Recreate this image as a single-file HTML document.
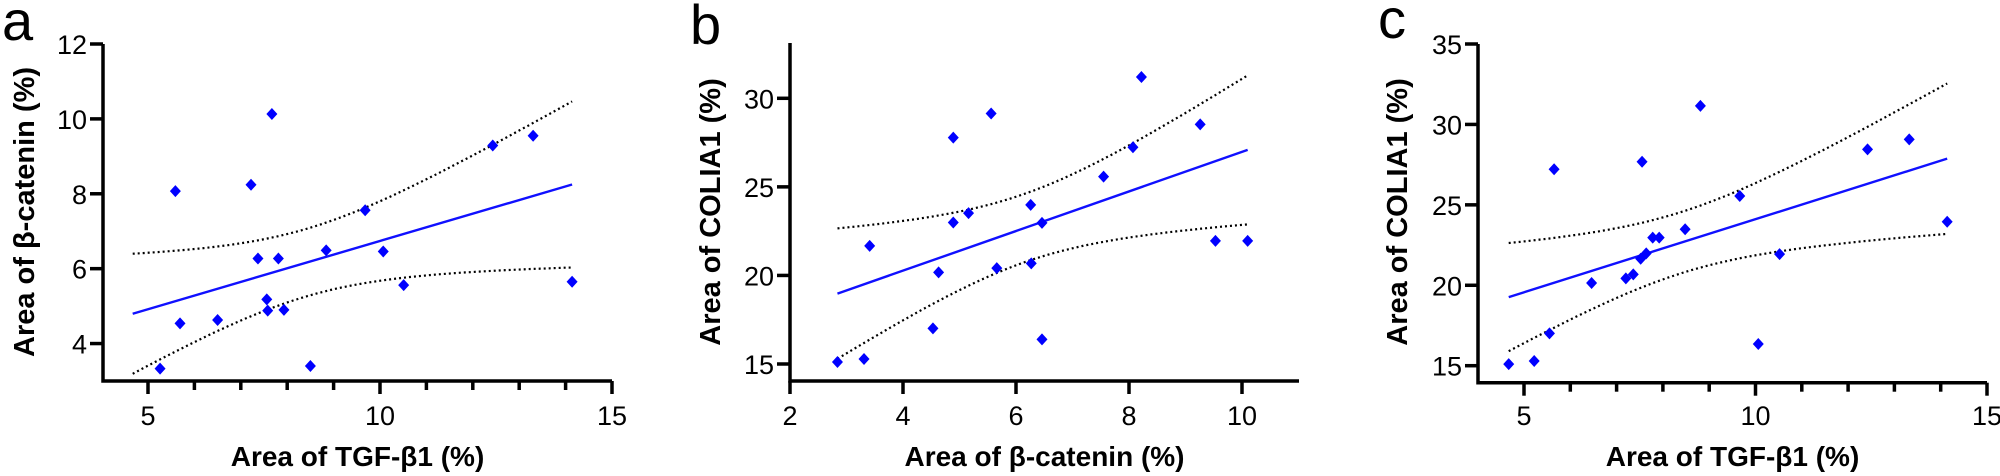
<!DOCTYPE html>
<html><head><meta charset="utf-8"><style>
html,body{margin:0;padding:0;background:#fff;}
svg{display:block;font-family:"Liberation Sans",Arial,sans-serif;}
</style></head><body>
<svg id="fig" width="2000" height="476" viewBox="0 0 2000 476"></svg>
<script>
// Panel a: TGF-b1 vs beta-catenin (first point lies below the visible axis range)
const aX=[4.67,5.26,5.59,5.69,6.5,7.22,7.37,7.56,7.58,7.67,7.81,7.93,8.5,8.84,9.68,10.07,10.51,12.43,13.3,14.14];
const aY=[2.84,3.33,8.07,4.54,4.63,8.24,6.27,5.18,4.88,10.13,6.27,4.9,3.4,6.49,7.56,6.46,5.56,9.29,9.55,5.65];
const aXTicks=[5,10,15];
const aYTicks=[4,6,8,10,12];
// Panel b: beta-catenin vs COLIA1
const bX=[2.84,3.31,3.41,4.53,4.63,4.89,4.89,5.16,5.56,5.66,6.26,6.27,6.46,6.46,7.55,8.07,8.22,9.26,9.53,10.1];
const bY=[15.11,15.28,21.67,17.01,20.17,27.78,22.99,23.52,29.14,20.41,23.98,20.68,22.97,16.39,25.58,27.24,31.2,28.53,21.95,21.95];
const bXTicks=[2,4,6,8,10];
const bYTicks=[15,20,25,30];
// Panel c: TGF-b1 vs COLIA1
const cX=[4.67,5.22,5.55,5.65,6.46,7.2,7.36,7.52,7.55,7.64,7.78,7.92,8.48,8.81,9.66,10.06,10.52,12.42,13.32,14.14];
const cY=[15.1,15.29,17.01,27.21,20.14,20.43,20.68,21.65,27.68,21.98,22.96,22.96,23.48,31.15,25.55,16.35,21.94,28.45,29.07,23.95];
const cXTicks=[5,10,15];
const cYTicks=[15,20,25,30,35];

const NS="http://www.w3.org/2000/svg";
const svg=document.getElementById('fig');
function mk(tag,attrs,parent){const e=document.createElementNS(NS,tag);for(const k in attrs)e.setAttribute(k,attrs[k]);(parent||svg).appendChild(e);return e;}
const defs=mk('defs',{});

function panel(cfg){
  const g=mk('g',{});
  
  
  const sx=v=>cfg.x0+(v-cfg.xa)*(cfg.x1-cfg.x0)/(cfg.xb-cfg.xa);
  const sy=v=>cfg.y0+(v-cfg.ya)*(cfg.y1-cfg.y0)/(cfg.yb-cfg.ya);
  const cp=mk('clipPath',{id:'clip-'+cfg.name},defs);
  mk('rect',{x:cfg.axL,y:cfg.axTop-20,width:cfg.axR-cfg.axL+20,height:cfg.axBot-cfg.axTop+18},cp);
  const L=mk('text',{x:cfg.lx,y:cfg.ly,'font-size':56,fill:'#000'},g);L.textContent=cfg.letter;
  
  
  const ax=mk('path',{d:`M${cfg.axL} ${cfg.axTop} V${cfg.axBot} H${cfg.axR}`,stroke:'#000','stroke-width':3.5,fill:'none'},g);
  
  
  for(let v=cfg.minorStart;v<=cfg.xMax+1e-9;v+=cfg.minorStep){
    const major=cfg.xTicks.some(t=>Math.abs(t-v)<1e-6);
    const t=mk('line',{x1:sx(v),x2:sx(v),y1:cfg.axBot,y2:cfg.axBot+(major?13:9),stroke:'#000','stroke-width':3.5},g);
    
    
  }
  cfg.xTicks.forEach(v=>{
    const t=mk('text',{x:sx(v),y:425,'text-anchor':'middle','font-size':27,fill:'#000'},g);t.textContent=v;
    
    
  });
  cfg.yTicks.forEach(v=>{
    const l=mk('line',{x1:cfg.axL-13,x2:cfg.axL,y1:sy(v),y2:sy(v),stroke:'#000','stroke-width':3.5},g);
    
    
    const t=mk('text',{x:cfg.axL-16,y:sy(v)+10,'text-anchor':'end','font-size':27,fill:'#000'},g);t.textContent=v;
    
    
  });
  const xt=mk('text',{x:(cfg.axL+cfg.axR)/2,y:466,'text-anchor':'middle','font-size':28,'font-weight':'bold',fill:'#000'},g);xt.textContent=cfg.xTitle;
  
  
  const yt=mk('text',{x:0,y:0,'text-anchor':'middle','font-size':29,'font-weight':'bold',fill:'#000',transform:`translate(${cfg.ytx},212) rotate(-90)`},g);yt.textContent=cfg.yTitle;
  
  
  const X=cfg.X,Y=cfg.Y,n=X.length;
  const mx=X.reduce((a,b)=>a+b)/n,my=Y.reduce((a,b)=>a+b)/n;
  let sxx=0,sxy=0;for(let i=0;i<n;i++){sxx+=(X[i]-mx)**2;sxy+=(X[i]-mx)*(Y[i]-my);}
  const b=sxy/sxx,a=my-b*mx;
  let sse=0;for(let i=0;i<n;i++)sse+=(Y[i]-a-b*X[i])**2;
  const s=Math.sqrt(sse/(n-2)),tv=2.1;
  const xmin=Math.min(...X),xmax=Math.max(...X);
  let up='',lo='';
  for(let k=0;k<=60;k++){const x=xmin+(xmax-xmin)*k/60;const yh=a+b*x;const h=tv*s*Math.sqrt(1/n+(x-mx)**2/sxx);
    up+=(k?'L':'M')+sx(x).toFixed(1)+' '+sy(yh+h).toFixed(1);
    lo+=(k?'L':'M')+sx(x).toFixed(1)+' '+sy(yh-h).toFixed(1);}
  const pg=mk('g',{'clip-path':`url(#clip-${cfg.name})`},g);
  const cu=mk('path',{d:up,stroke:'#000','stroke-width':2.2,'stroke-dasharray':'2 3',fill:'none'},pg);
  
  
  const cl=mk('path',{d:lo,stroke:'#000','stroke-width':2.2,'stroke-dasharray':'2 3',fill:'none'},pg);
  
  
  const rl=mk('line',{x1:sx(xmin),y1:sy(a+b*xmin),x2:sx(xmax),y2:sy(a+b*xmax),stroke:'#1010ff','stroke-width':2.4},pg);
  
  
  for(let i=0;i<n;i++){
    const px=sx(X[i]),py=sy(Y[i]);
    const d=mk('path',{d:`M${px} ${py-6}L${px+5.5} ${py}L${px} ${py+6}L${px-5.5} ${py}Z`,fill:'#0000ff'},pg);
    
    
  }
}
panel({name:'panel-a',letter:'a',lx:2,ly:40,X:aX,Y:aY,xTicks:aXTicks,yTicks:aYTicks,
  xa:5,xb:15,x0:148,x1:612,ya:3,yb:12,y0:381,y1:44,axL:103,axR:612,axTop:44,axBot:381,
  minorStart:5,minorStep:1,xMax:15,ytx:34,xTitle:'Area of TGF-β1 (%)',yTitle:'Area of β-catenin (%)'});
panel({name:'panel-b',letter:'b',lx:690,ly:44,X:bX,Y:bY,xTicks:bXTicks,yTicks:bYTicks,
  xa:2,xb:10,x0:790,x1:1242,ya:15,yb:30,y0:364,y1:98.3,axL:790,axR:1299,axTop:43,axBot:381,
  minorStart:2,minorStep:2,xMax:10,ytx:720,xTitle:'Area of β-catenin (%)',yTitle:'Area of COLIA1 (%)'});
panel({name:'panel-c',letter:'c',lx:1378,ly:38,X:cX,Y:cY,xTicks:cXTicks,yTicks:cYTicks,
  xa:5,xb:15,x0:1524,x1:1987,ya:15,yb:35,y0:365.7,y1:44,axL:1478,axR:1987,axTop:44,axBot:382.7,
  minorStart:5,minorStep:1,xMax:15,ytx:1407,xTitle:'Area of TGF-β1 (%)',yTitle:'Area of COLIA1 (%)'});
</script>
</body></html>
